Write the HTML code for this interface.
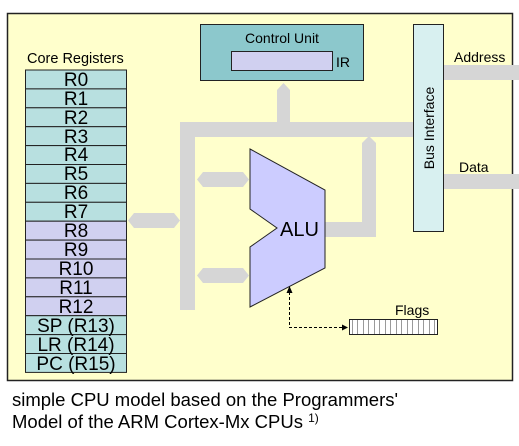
<!DOCTYPE html>
<html><head><style>
body{margin:0;background:#fff;width:519px;height:441px;overflow:hidden;font-family:"Liberation Sans",sans-serif}
</style></head><body>
<svg width="519" height="441" xmlns="http://www.w3.org/2000/svg" font-family="Liberation Sans, sans-serif">
<defs>
<marker id="ah" markerWidth="6" markerHeight="6" refX="5" refY="3" orient="auto"><path d="M0,0 L6,3 L0,6 z" fill="#000"/></marker>
<pattern id="fl" width="5.5" height="16" patternUnits="userSpaceOnUse"><rect width="5.5" height="16" fill="#fff"/><line x1="0" y1="0" x2="0" y2="16" stroke="#000" stroke-width="0.8"/></pattern>
</defs>
<rect x="7.5" y="13.5" width="505" height="367" fill="#ffffcc" stroke="#222" stroke-width="1.5"/>
<g fill="#d6d6d6">
<rect x="444" y="65" width="75" height="15"/>
<rect x="444" y="174" width="75" height="15"/>
<rect x="180" y="122" width="233" height="15"/>
<rect x="180" y="122" width="15" height="188"/>
<polygon points="277,122 277,90 283.5,83 290,90 290,122"/>
<polygon points="362,237 362,143 369,136 376,143 376,237"/>
<rect x="322" y="222" width="54" height="15"/>
<polygon points="128,220.5 134,213 174,213 180,220.5 174,228 134,228"/>
<polygon points="197,179.5 203,172 243,172 249,179.5 243,187 203,187"/>
<polygon points="197,275.5 203,268 243,268 249,275.5 243,283 203,283"/>
</g>
<rect x="200.5" y="24.5" width="163" height="56" fill="#8cc8cc" stroke="#222"/>
<text x="282" y="43" font-size="14" text-anchor="middle">Control Unit</text>
<rect x="231.5" y="51.5" width="101" height="19" fill="#d0d0f0" stroke="#222"/>
<text x="336" y="67" font-size="14">IR</text>
<rect x="413.5" y="24.5" width="30" height="207" fill="#d8f0f0" stroke="#222"/>
<text transform="translate(434,128) rotate(-90)" font-size="14" text-anchor="middle">Bus Interface</text>
<text x="454" y="62" font-size="14">Address</text>
<text x="459" y="172" font-size="14">Data</text>
<text x="27" y="63" font-size="14.5">Core Registers</text>
<g stroke="#222">
<rect x="25.5" y="70" width="101" height="18.9" fill="#b8e0e0"/>
<rect x="25.5" y="88.9" width="101" height="18.9" fill="#b8e0e0"/>
<rect x="25.5" y="107.8" width="101" height="18.9" fill="#b8e0e0"/>
<rect x="25.5" y="126.7" width="101" height="18.9" fill="#b8e0e0"/>
<rect x="25.5" y="145.6" width="101" height="18.9" fill="#b8e0e0"/>
<rect x="25.5" y="164.5" width="101" height="18.9" fill="#b8e0e0"/>
<rect x="25.5" y="183.4" width="101" height="18.9" fill="#b8e0e0"/>
<rect x="25.5" y="202.3" width="101" height="18.9" fill="#b8e0e0"/>
<rect x="25.5" y="221.2" width="101" height="18.9" fill="#d0d0f0"/>
<rect x="25.5" y="240.1" width="101" height="18.9" fill="#d0d0f0"/>
<rect x="25.5" y="259" width="101" height="18.9" fill="#d0d0f0"/>
<rect x="25.5" y="277.9" width="101" height="18.9" fill="#d0d0f0"/>
<rect x="25.5" y="296.8" width="101" height="18.9" fill="#d0d0f0"/>
<rect x="25.5" y="315.7" width="101" height="18.9" fill="#b8e0e0"/>
<rect x="25.5" y="334.6" width="101" height="18.9" fill="#b8e0e0"/>
<rect x="25.5" y="353.5" width="101" height="18.9" fill="#b8e0e0"/>
</g>
<g font-size="19" text-anchor="middle">
<text x="76" y="86">R0</text><text x="76" y="105">R1</text><text x="76" y="124">R2</text><text x="76" y="143">R3</text>
<text x="76" y="161">R4</text><text x="76" y="180">R5</text><text x="76" y="199">R6</text><text x="76" y="218">R7</text>
<text x="76" y="237">R8</text><text x="76" y="256">R9</text><text x="76" y="275">R10</text><text x="76" y="294">R11</text>
<text x="76" y="313">R12</text><text x="76" y="332">SP (R13)</text><text x="76" y="351">LR (R14)</text><text x="76" y="370">PC (R15)</text>
</g>
<polygon points="250,149 325,190 325,268 250,307 250,247 277,228 250,209" fill="#ccccff" stroke="#222"/>
<text x="280" y="236" font-size="20">ALU</text>
<text x="395" y="315" font-size="14">Flags</text>
<rect x="349.5" y="319.5" width="88" height="15" fill="url(#fl)" stroke="#222"/>
<path d="M289.5,292 L289.5,327.5 L347,327.5" fill="none" stroke="#000" stroke-dasharray="3,2" marker-end="url(#ah)"/>
<polygon points="289.5,286 286.5,293 292.5,293" fill="#000"/>
<text x="12" y="406" font-size="18.5">simple CPU model based on the Programmers'</text>
<text x="12" y="428" font-size="18.5">Model of the ARM Cortex-Mx CPUs <tspan font-size="12" dy="-6">1)</tspan></text>
</svg>
</body></html>
